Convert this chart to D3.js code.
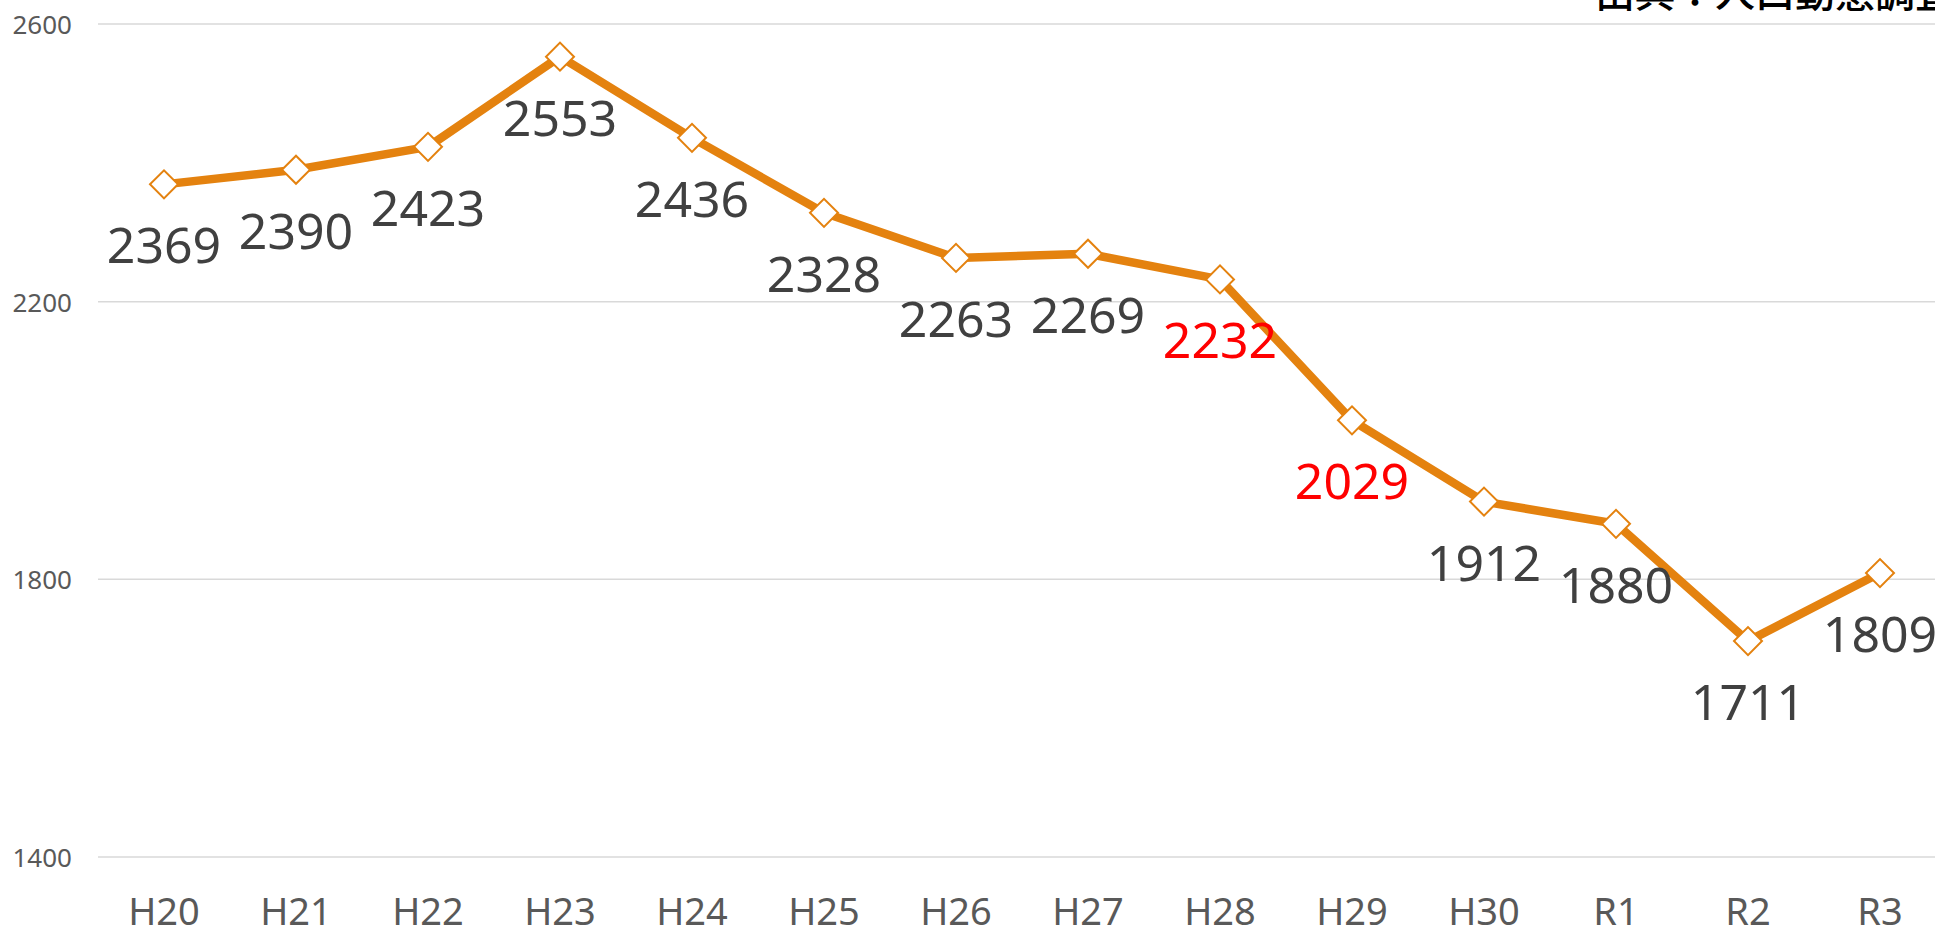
<!DOCTYPE html>
<html lang="ja">
<head>
  <meta charset="UTF-8">
  <title>人口動態調査</title>
  <style>
    body { margin: 0; background: #fff; }
    svg  { display: block; font-family: "Noto Sans", "Open Sans", sans-serif; }
    .grid line { stroke: #d9d9d9; stroke-width: 1.5px; }
    .ytick { fill: #595959; font-size: 26px; }
    .xtick { fill: #595959; font-size: 38px; }
    .series { fill: none; stroke: #e4820f; stroke-width: 8.5px; stroke-linejoin: round; }
    .marker { fill: #fff; stroke: #e4820f; stroke-width: 2px; }
    .vlabel { font-size: 50px; }
    .title { font-family: "Noto Sans CJK JP", sans-serif; font-size: 40px; fill: #000; font-weight: 500; }
  </style>
</head>
<body>
  <svg id="chart" width="1935" height="936"></svg>

  <script src="https://d3js.org/d3.v7.min.js"></script>
  <script>
    /* ---------- data ---------- */
    const years  = ['H20', 'H21', 'H22', 'H23', 'H24', 'H25', 'H26', 'H27', 'H28', 'H29', 'H30', 'R1', 'R2', 'R3'];
    const values = [2369, 2390, 2423, 2553, 2436, 2328, 2263, 2269, 2232, 2029, 1912, 1880, 1711, 1809];
    const redYears = ['H28', 'H29'];        // labels highlighted in red
    const yTicks = [1400, 1800, 2200, 2600];
    const titleText = '出典：人口動態調査';

    const data = years.map((y, i) => ({ year: y, value: values[i] }));

    /* ---------- scales ---------- */
    const plot = { left: 98, right: 1946, top: 24, bottom: 857 };

    const x = d3.scalePoint()
                .domain(years)
                .range([plot.left, plot.right])
                .padding(0.5);

    const y = d3.scaleLinear()
                .domain([1400, 2600])
                .range([plot.bottom, plot.top]);

    const svg = d3.select('#chart');

    // gridlines
    svg.append('g').attr('class', 'grid')
       .selectAll('line')
       .data(yTicks)
       .enter().append('line')
       .attr('x1', plot.left)
       .attr('x2', plot.right)
       .attr('y1', d => y(d))
       .attr('y2', d => y(d));

    // y axis labels
    svg.append('g')
       .selectAll('text')
       .data(yTicks)
       .enter().append('text')
       .attr('class', 'ytick')
       .attr('x', plot.left - 26)
       .attr('y', d => y(d))
       .attr('text-anchor', 'end')
       .attr('dominant-baseline', 'central')
       .text(d => d);

    // x axis labels
    svg.append('g')
       .selectAll('text')
       .data(years)
       .enter().append('text')
       .attr('class', 'xtick')
       .attr('x', d => x(d))
       .attr('y', plot.bottom + 53)
       .attr('text-anchor', 'middle')
       .attr('dominant-baseline', 'central')
       .text(d => d);

    // line
    const line = d3.line()
                   .x(d => x(d.year))
                   .y(d => y(d.value));

    svg.append('path')
       .datum(data)
       .attr('class', 'series')
       .attr('d', line);

    // diamond markers (square rotated 45deg)
    const diamond = d3.symbol().type(d3.symbolSquare).size(392);
    svg.append('g')
       .selectAll('path')
       .data(data)
       .enter().append('path')
       .attr('class', 'marker')
       .attr('d', diamond)
       .attr('transform', d => `translate(${x(d.year)},${y(d.value)}) rotate(45)`);

    // value labels (below point)
    svg.append('g')
       .selectAll('text')
       .data(data)
       .enter().append('text')
       .attr('class', 'vlabel')
       .attr('x', d => x(d.year))
       .attr('y', d => y(d.value) + 60)
       .attr('text-anchor', 'middle')
       .attr('dominant-baseline', 'central')
       .attr('fill', d => redYears.includes(d.year) ? '#ff0000' : '#404040')
       .text(d => d.value);

    // source note, clipped at the top edge
    svg.append('text')
       .attr('class', 'title')
       .attr('x', 1595)
       .attr('y', 7)
       .text(titleText);
  </script>
</body>
</html>
